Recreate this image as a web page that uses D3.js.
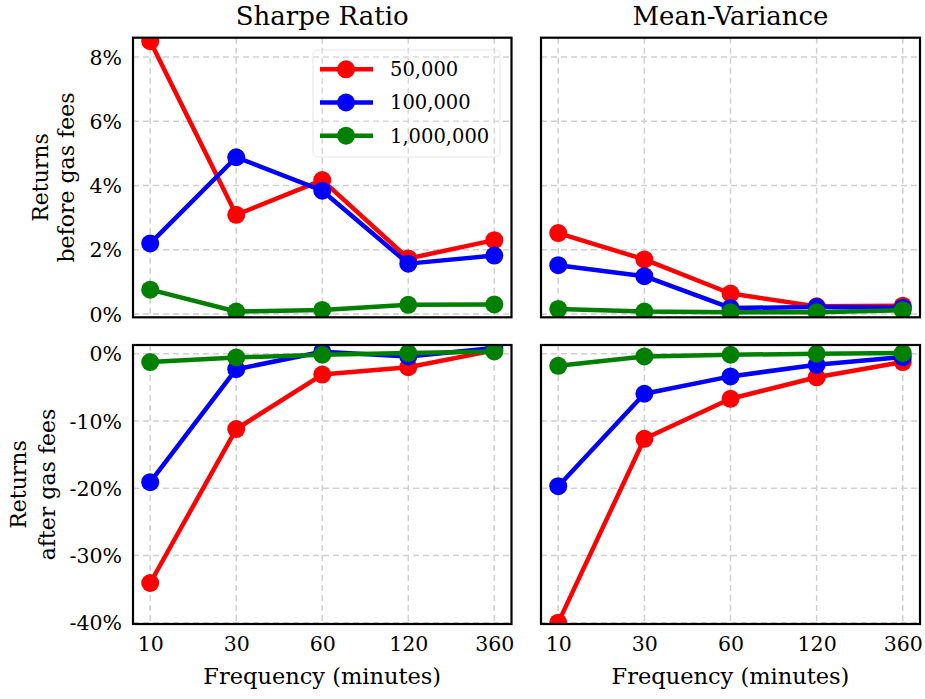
<!DOCTYPE html>
<html><head><meta charset="utf-8">
<script src="https://cdn.jsdelivr.net/npm/d3@7"></script>
<style>body{margin:0;background:#fff}svg{display:block}</style>
</head><body>
<svg id="c" width="925" height="699"></svg>
<script>
const frequencies = ["10", "30", "60", "120", "360"];
const seriesNames = ["50,000", "100,000", "1,000,000"];
const seriesColors = ["#ff0000", "#0000ff", "#008000"];
const columnTitles = ["Sharpe Ratio", "Mean-Variance"];
const rowLabels = [["Returns", "before gas fees"], ["Returns", "after gas fees"]];
const topTicks = [0, 2, 4, 6, 8];
const bottomTicks = [0, -10, -20, -30, -40];

// Returns (%) before gas fees
const sharpeBefore50k  = [8.49, 3.09, 4.17, 1.73, 2.30];
const sharpeBefore100k = [2.20, 4.88, 3.84, 1.57, 1.82];
const sharpeBefore1m   = [0.76, 0.08, 0.13, 0.29, 0.30];
const mvBefore50k  = [2.52, 1.70, 0.64, 0.24, 0.26];
const mvBefore100k = [1.52, 1.18, 0.19, 0.22, 0.20];
const mvBefore1m   = [0.16, 0.08, 0.06, 0.06, 0.12];
// Returns (%) after gas fees
const sharpeAfter50k  = [-34.1, -11.2, -3.1, -2.0, 0.5];
const sharpeAfter100k = [-19.1, -2.3, 0.3, -0.4, 0.85];
const sharpeAfter1m   = [-1.24, -0.55, -0.15, 0.1, 0.35];
const mvAfter50k  = [-40.0, -12.65, -6.7, -3.5, -1.24];
const mvAfter100k = [-19.7, -5.95, -3.37, -1.64, -0.5];
const mvAfter1m   = [-1.8, -0.4, -0.15, 0.0, 0.1];

const panelData = [
  [[sharpeBefore50k, sharpeBefore100k, sharpeBefore1m], [mvBefore50k, mvBefore100k, mvBefore1m]],
  [[sharpeAfter50k, sharpeAfter100k, sharpeAfter1m], [mvAfter50k, mvAfter100k, mvAfter1m]]
];

const FONT = "'DejaVu Serif', serif";
const svg = d3.select("#c");
const colX = [[133, 511.5], [541, 920]];
const rowY = [[37.7, 317.3], [345, 624]];
const yDomains = [[-0.1, 8.6], [-40.2, 1.3]];
const yTicks = [topTicks, bottomTicks];

const defs = svg.append("defs");

for (let r = 0; r < 2; r++) {
  for (let c = 0; c < 2; c++) {
    const [x0, x1] = colX[c], [y0, y1] = rowY[r];
    const x = d3.scalePoint().domain(frequencies).range([x0, x1]).padding(0.2);
    const y = d3.scaleLinear().domain(yDomains[r]).range([y1, y0]);
    const g = svg.append("g");
    const cid = `clip${r}${c}`;
    defs.append("clipPath").attr("id", cid).append("rect")
      .attr("x", x0).attr("y", y0).attr("width", x1 - x0).attr("height", y1 - y0);

    // grid
    const grid = g.append("g").attr("stroke", "#d0d0d0").attr("stroke-width", 1.5)
      .attr("stroke-dasharray", "6,4");
    grid.selectAll("line.v").data(frequencies).join("line").attr("class", "v")
      .attr("x1", d => x(d)).attr("x2", d => x(d)).attr("y1", y0).attr("y2", y1);
    grid.selectAll("line.h").data(yTicks[r]).join("line").attr("class", "h")
      .attr("x1", x0).attr("x2", x1).attr("y1", d => y(d)).attr("y2", d => y(d));

    // series
    const plot = g.append("g").attr("clip-path", `url(#${cid})`);
    panelData[r][c].forEach((vals, i) => {
      const pts = vals.map((v, k) => [x(frequencies[k]), y(v)]);
      plot.append("path").attr("d", d3.line()(pts)).attr("fill", "none")
        .attr("stroke", seriesColors[i]).attr("stroke-width", 4.5)
        .attr("stroke-linejoin", "round");
      plot.selectAll(null).data(pts).join("circle")
        .attr("cx", d => d[0]).attr("cy", d => d[1]).attr("r", 9)
        .attr("fill", seriesColors[i]);
    });

    // frame
    g.append("rect").attr("x", x0).attr("y", y0).attr("width", x1 - x0).attr("height", y1 - y0)
      .attr("fill", "none").attr("stroke", "#000").attr("stroke-width", 2.2);

    // y tick labels (left column only)
    if (c === 0) {
      const yAxis = d3.axisLeft(y).tickValues(yTicks[r]).tickSize(0).tickPadding(11)
        .tickFormat(d => d + "%");
      const ax = g.append("g").attr("transform", `translate(${x0},0)`).call(yAxis);
      ax.select(".domain").remove();
      ax.selectAll("text").attr("font-family", FONT).attr("font-size", 20.5).attr("fill", "#000")
        .attr("dy", "0.35em");
      // row label
      const cy = (y0 + y1) / 2;
      const lx = r === 0 ? [41, 67] : [19, 48];
      rowLabels[r].forEach((t, k) => {
        svg.append("text").attr("transform", `translate(${lx[k] + 7},${cy}) rotate(-90)`)
          .attr("text-anchor", "middle").attr("font-family", FONT).attr("font-size", 22)
          .text(t);
      });
    }
    // x tick labels (bottom row)
    if (r === 1) {
      const xAxis = d3.axisBottom(x).tickSize(0).tickPadding(12);
      const ax = g.append("g").attr("transform", `translate(0,${y1})`).call(xAxis);
      ax.select(".domain").remove();
      ax.selectAll("text").attr("font-family", FONT).attr("font-size", 20.5).attr("fill", "#000");
      svg.append("text").attr("x", (x0 + x1) / 2).attr("y", 684)
        .attr("text-anchor", "middle").attr("font-family", FONT).attr("font-size", 22.5)
        .text("Frequency (minutes)");
    }
    // titles (top row)
    if (r === 0) {
      svg.append("text").attr("x", (x0 + x1) / 2).attr("y", 25)
        .attr("text-anchor", "middle").attr("font-family", FONT).attr("font-size", 26)
        .text(columnTitles[c]);
    }
  }
}

// legend
const lg = svg.append("g");
lg.append("rect").attr("x", 313).attr("y", 50).attr("width", 187).attr("height", 107)
  .attr("rx", 5).attr("fill", "#fff").attr("fill-opacity", 0.2)
  .attr("stroke", "#e6e6e6").attr("stroke-width", 1);
seriesNames.forEach((name, i) => {
  const yy = 69.3 + i * 33.2;
  lg.append("line").attr("x1", 320).attr("x2", 373).attr("y1", yy).attr("y2", yy)
    .attr("stroke", seriesColors[i]).attr("stroke-width", 4.5);
  lg.append("circle").attr("cx", 346).attr("cy", yy).attr("r", 9).attr("fill", seriesColors[i]);
  lg.append("text").attr("x", 390).attr("y", yy).attr("dy", "0.35em")
    .attr("font-family", FONT).attr("font-size", 19.5).text(name);
});
</script>
</body></html>
